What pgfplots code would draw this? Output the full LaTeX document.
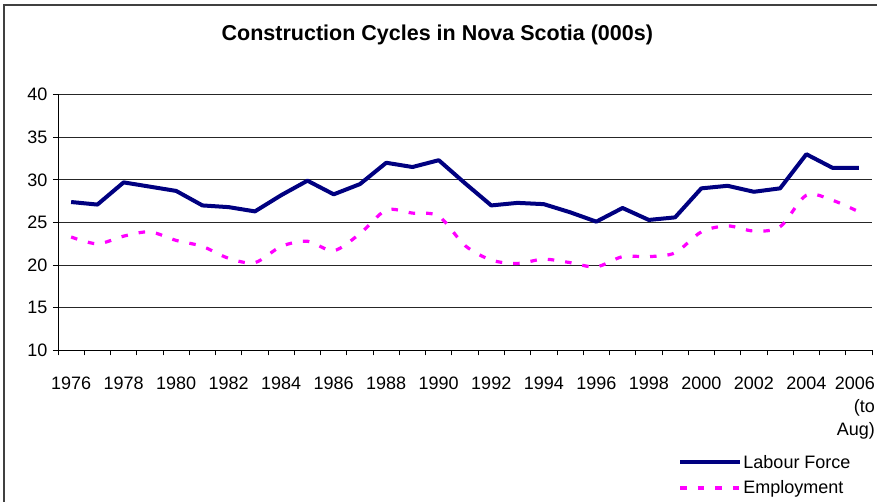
\documentclass[border=0pt]{standalone}
\usepackage{fontspec}
\setmainfont{Liberation Sans}
\usepackage{pgfplots}
\pgfplotsset{compat=1.18}
\definecolor{lfblue}{HTML}{000080}
\definecolor{empmag}{HTML}{FF00FF}
\begin{document}
\begin{tikzpicture}
\begin{axis}[
    scale only axis,
    width=814pt, height=256pt,
    xmin=-0.5, xmax=30.5,
    ymin=10, ymax=40,
    ytick={10,15,...,40},
    axis x line*=bottom, axis y line*=left,
    axis line style={-, line width=0.8pt},
    tick align=outside,
    major tick length=5pt,
    tick style={black, line width=0.8pt},
    ymajorgrids,
    grid style={black!85, line width=0.8pt},
    xtick={-0.5,0.5,...,30.5},
    xticklabels={},
    extra x ticks={0,2,...,30},
    extra x tick labels={1976,1978,1980,1982,1984,1986,1988,1990,1992,1994,1996,1998,2000,2002,2004,
        {2006\kern8pt\\(to\kern8pt\\Aug)\kern8pt}},
    extra x tick style={major tick length=0pt, xmajorgrids=false,
        xticklabel style={anchor=north, align=right, yshift=-23pt}},
    font=\fontsize{18}{23}\selectfont,
    tick label style={font=\fontsize{18}{23}\selectfont},
    /pgf/number format/assume math mode=true,
    yticklabel style={xshift=-2pt},
    title={\bfseries Construction Cycles in Nova Scotia (000s)},
    title style={at={(axis description cs:0.466,1.211)}, anchor=center, font=\fontsize{21.5}{24}\selectfont},
    legend style={at={(axis description cs:0.762,-0.404)}, anchor=north west,
        draw=none, fill=none, inner sep=0pt, row sep=9pt,
        font=\fontsize{18}{23}\selectfont,
        nodes={inner sep=1pt}},
    legend cell align=left,
    legend image code/.code={\draw[#1] (0pt,0pt) -- (60pt,0pt);},
]
\addplot[lfblue, line width=4pt, line join=round] coordinates {
(0,27.4) (1,27.1) (2,29.7) (3,29.2) (4,28.7) (5,27.0) (6,26.8) (7,26.3)
(8,28.2) (9,29.9) (10,28.3) (11,29.5) (12,32.0) (13,31.5) (14,32.3) (15,29.6)
(16,27.0) (17,27.3) (18,27.15) (19,26.2) (20,25.1) (21,26.7) (22,25.3) (23,25.6)
(24,29.0) (25,29.3) (26,28.6) (27,29.0) (28,33.0) (29,31.4) (30,31.4)};
\addlegendentry{Labour Force}
\addplot[empmag, line width=3.2pt, dash pattern=on 6.5pt off 11pt, smooth, tension=0.5] coordinates {
(0,23.3) (1,22.5) (2,23.4) (3,23.9) (4,22.9) (5,22.2) (6,20.8) (7,20.3)
(8,22.2) (9,22.8) (10,21.7) (11,23.7) (12,26.45) (13,26.1) (14,25.75) (15,22.3)
(16,20.6) (17,20.2) (18,20.7) (19,20.3) (20,19.8) (21,21.0) (22,21.0) (23,21.45)
(24,23.9) (25,24.6) (26,24.0) (27,24.5) (28,28.2) (29,27.6) (30,26.25)};
\addlegendentry{Employment}
\end{axis}
\pgfresetboundingbox
\useasboundingbox (-58pt,-151.5pt) rectangle (819pt,350.5pt);
\draw[black!75, line width=1.5pt] (-54pt,-151.5pt) -- (-54pt,345.5pt) -- (819pt,345.5pt);
\end{tikzpicture}
\end{document}
